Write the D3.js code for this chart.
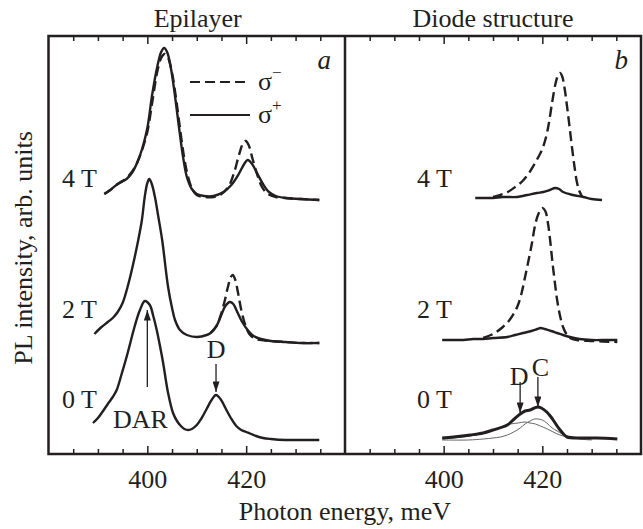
<!DOCTYPE html>
<html>
<head>
<meta charset="utf-8">
<script src="https://cdn.jsdelivr.net/npm/d3@7"></script>
<style>
  body { margin: 0; background: #fff; }
  svg text { font-family: "Liberation Serif", "Times New Roman", serif; fill: #231f20; }
</style>
</head>
<body>
<div id="chart"></div>
<script>
// photon energy (meV), PL intensity (arb. units, curves already shifted vertically)
const epi4Tplus = [[391.3,260],[392.5,264],[394.0,270],[395.8,275],[397.0,282],[398.0,292],[399.0,306],[400.0,326],[401.0,360],[402.0,387],[402.8,402],[403.4,406],[404.0,402],[404.8,385],[405.6,358],[406.4,327],[407.2,298],[408.0,277],[409.0,265],[410.0,260],[411.5,258],[413.4,258],[415.4,262],[417.0,269],[418.5,280],[419.6,290],[420.3,294],[421.2,290],[422.3,280],[423.4,270],[424.6,262],[426.0,258],[428.0,256],[431.0,255],[434.8,254]];
const epi4Tminus = [[391.3,260],[392.5,264],[394.0,270],[395.8,276],[397.0,283],[398.0,292],[399.0,305],[400.0,322],[401.0,352],[402.0,382],[402.8,396],[403.5,400],[404.2,396],[405.0,381],[405.8,356],[406.6,326],[407.4,298],[408.2,278],[409.0,266],[410.0,259],[411.5,257],[413.4,257],[415.0,260],[416.5,268],[417.6,282],[418.6,300],[419.4,311],[419.9,313],[420.5,309],[421.3,295],[422.2,280],[423.2,267],[424.4,260],[426.0,257],[428.0,256],[431.0,255],[434.8,254]];
const epi2Tplus = [[389.3,120],[390.5,126],[392.0,132],[393.0,136],[394.0,142],[395.0,151],[396.0,167],[397.0,187],[398.0,210],[398.9,234],[399.5,258],[400.0,271],[400.4,275],[400.9,270],[401.5,258],[402.2,238],[403.0,214],[404.2,167],[405.0,146],[405.6,134],[406.6,124],[408.0,119],[410.1,117],[412.0,119],[412.8,121],[414.0,128],[414.8,137],[415.8,148],[416.7,152],[417.4,150],[418.2,142],[419.2,132],[420.3,124],[421.5,118],[423.0,115],[425.0,113],[428.0,112],[431.0,111],[434.8,111]];
const epi2Tminus = [[412.8,121],[414.0,128],[414.8,138],[415.6,152],[416.3,167],[416.9,177],[417.3,179],[417.8,174],[418.4,160],[419.1,142],[419.9,128],[420.8,119],[422.0,115],[423.0,114],[425.0,113],[428.0,112],[431.0,111],[434.8,111]];
const epi0T = [[389.0,31],[390.0,36],[390.9,42],[392.0,50],[393.0,57],[393.8,64],[394.8,80],[395.8,97],[396.6,112],[397.4,127],[398.5,144],[399.5,153],[400.5,149],[401.2,138],[401.9,124],[402.6,107],[403.2,91],[404.2,61],[405.2,41],[406.0,33],[406.6,29],[407.5,25],[408.3,24],[409.0,25],[410.0,29],[411.0,36],[412.0,45],[413.0,54],[413.9,59],[414.8,55],[415.8,46],[416.9,36],[418.0,28],[419.0,24],[420.0,22],[421.0,20],[422.0,18],[423.4,16],[425.0,15],[428.0,14],[431.0,14],[434.8,14]];

const dio4Tplus = [[406.4,256],[408.0,256],[410.0,256],[412.0,257],[414.9,257],[416.9,259],[418.9,261],[420.2,262],[421.5,264],[422.6,266],[423.4,265],[424.2,262],[426.2,259],[428.3,257],[430.0,255],[432.1,254]];
const dio4Tminus = [[410.0,257],[411.5,259],[413.0,262],[414.5,267],[416.0,273],[417.3,281],[418.3,289],[419.2,297],[420.0,305],[420.7,316],[421.3,330],[422.0,352],[422.7,371],[423.2,379],[423.6,381],[424.0,378],[424.5,366],[425.0,348],[425.5,328],[426.0,307],[426.5,288],[427.0,272],[427.5,263],[428.1,257]];
const dio2Tplus = [[399.7,114],[402.0,114],[404.0,114],[406.0,115],[408.0,115],[410.0,116],[412.9,117],[414.5,119],[416.1,121],[417.8,123],[419.0,125],[419.6,126],[420.5,125],[421.8,123],[423.0,121],[424.2,119],[425.6,117],[427.5,115],[430.0,114],[433.0,114],[435.2,114]];
const dio2Tminus = [[408.0,116],[410.0,120],[412.0,127],[413.5,135],[414.9,147],[415.8,161],[416.5,177],[417.3,196],[417.9,211],[418.5,228],[419.2,240],[420.0,246],[420.6,243],[421.1,232],[421.6,213],[422.0,194],[422.5,173],[423.0,154],[423.6,138],[424.2,127],[425.0,119],[425.6,116],[427.0,114],[430.0,113],[435.2,112]];
const dio0T = [[399.7,16],[402.0,17],[405.4,19],[408.0,21],[410.0,24],[412.9,29],[414.3,35],[415.5,40],[416.5,43],[417.5,44],[418.4,46],[419.1,47],[419.8,46],[420.9,42],[421.6,38],[422.2,34],[423.0,28],[423.6,24],[424.3,20],[425.0,17],[427.7,16],[431.0,16],[435.2,15]];
const dio0T_D = [[399.7,15],[402.0,16],[405.4,18],[408.0,21],[410.0,24],[412.0,28],[413.5,30],[415.1,31],[416.5,32],[417.5,31],[418.6,30],[419.6,28],[421.0,25],[422.2,22],[423.6,19],[425.0,17],[427.7,15],[430.0,15]];
const dio0T_C = [[399.7,14],[405.0,14],[408.0,15],[410.0,16],[411.5,17],[412.9,19],[414.2,22],[415.5,26],[416.5,30],[417.5,33],[418.4,35],[419.1,35],[420.0,34],[420.9,31],[422.0,26],[423.0,23],[424.0,20],[425.0,18],[427.7,15],[430.0,14]];

const fieldLabels = ["4 T", "2 T", "0 T"];
const fieldLabelLevels = [267, 136, 46];
const tickValues = d3.range(385, 440, 5);
const labeledTicks = [400, 420];
// arrows: energy, start intensity, tip intensity, label, label energy, label level
const arrowsA = [
  { e: 400.0, from: 67, to: 144, label: "DAR", le: 398.6, ly: 26 },
  { e: 413.9, from: 90, to: 62, label: "D", le: 413.9, ly: 96 }
];
const arrowsB = [
  { e: 415.5, from: 72, to: 41, label: "D", le: 415.3, ly: 69 },
  { e: 419.1, from: 77, to: 47, label: "C", le: 419.6, ly: 78 }
];

const width = 643, height = 529;
const frame = { top: 36, bottom: 454, left: 48.5, mid: 345, right: 641 };
const ink = "#231f20";
const dash = "10,5";

const svg = d3.select("#chart").append("svg")
  .attr("width", width)
  .attr("height", height);

svg.append("defs").append("marker")
  .attr("id", "arrow")
  .attr("markerUnits", "userSpaceOnUse")
  .attr("viewBox", "0 0 12 8")
  .attr("refX", 12).attr("refY", 4)
  .attr("markerWidth", 12).attr("markerHeight", 7)
  .attr("orient", "auto")
  .append("path")
  .attr("d", "M0,0 L12,4 L0,8 Z")
  .attr("fill", ink);

const y = d3.scaleLinear().domain([0, 418]).range([frame.bottom, frame.top]);
const xA = d3.scaleLinear().domain([380, 440]).range([frame.left, frame.mid]);
const xB = d3.scaleLinear().domain([380, 440]).range([frame.mid, frame.right]);

function drawAxes(x) {
  const fmt = d => labeledTicks.includes(d) ? d : "";
  const bot = svg.append("g")
    .attr("transform", `translate(0,${frame.bottom})`)
    .call(d3.axisBottom(x).tickValues(tickValues).tickSize(-5).tickFormat(fmt));
  const tp = svg.append("g")
    .attr("transform", `translate(0,${frame.top})`)
    .call(d3.axisTop(x).tickValues(tickValues).tickSize(-5).tickFormat(""));
  [bot, tp].forEach(g => {
    g.select(".domain").remove();
    g.selectAll(".tick line")
      .attr("stroke", ink)
      .attr("stroke-width", 1.5);
  });
  bot.selectAll(".tick line").attr("y2", d => labeledTicks.includes(d) ? -8 : -5);
  tp.selectAll(".tick line").attr("y2", d => labeledTicks.includes(d) ? 8 : 5);
  bot.selectAll(".tick text")
    .attr("y", 34).attr("dy", 0)
    .attr("font-size", 26)
    .attr("font-family", "Liberation Serif")
    .attr("fill", ink);
}

function drawCurve(x, data, opts) {
  const line = d3.line()
    .x(d => x(d[0]))
    .y(d => y(d[1]))
    .curve(d3.curveCatmullRom.alpha(0.5));
  svg.append("path")
    .datum(data)
    .attr("d", line)
    .attr("fill", "none")
    .attr("stroke", opts.color || ink)
    .attr("stroke-width", opts.width || 2.4)
    .attr("stroke-dasharray", opts.dash ? dash : null)
    .attr("stroke-linejoin", "round");
}

function drawArrows(x, arrows) {
  arrows.forEach(a => {
    svg.append("line")
      .attr("x1", x(a.e)).attr("y1", y(a.from))
      .attr("x2", x(a.e)).attr("y2", y(a.to))
      .attr("stroke", ink)
      .attr("stroke-width", 1.3)
      .attr("marker-end", "url(#arrow)");
    svg.append("text")
      .attr("x", x(a.le)).attr("y", y(a.ly))
      .attr("text-anchor", "middle")
      .attr("font-size", 26)
      .text(a.label);
  });
}

function drawFieldLabels(xPos) {
  fieldLabels.forEach((t, i) => {
    svg.append("text")
      .attr("x", xPos)
      .attr("y", y(fieldLabelLevels[i]))
      .attr("font-size", 26)
      .text(t);
  });
}

drawAxes(xA);
drawAxes(xB);

// panel a: epilayer
drawCurve(xA, epi4Tminus, { dash: true });
drawCurve(xA, epi4Tplus, {});
drawCurve(xA, epi2Tminus, { dash: true });
drawCurve(xA, epi2Tplus, {});
drawCurve(xA, epi0T, {});
drawArrows(xA, arrowsA);
drawFieldLabels(62);

// panel b: diode structure
drawCurve(xB, dio4Tminus, { dash: true });
drawCurve(xB, dio4Tplus, {});
drawCurve(xB, dio2Tminus, { dash: true });
drawCurve(xB, dio2Tplus, {});
drawCurve(xB, dio0T_D, { color: "#666", width: 1 });
drawCurve(xB, dio0T_C, { color: "#666", width: 1 });
drawCurve(xB, dio0T, { width: 3 });
drawArrows(xB, arrowsB);
drawFieldLabels(417);

// frame and divider
svg.append("rect")
  .attr("x", frame.left).attr("y", frame.top)
  .attr("width", frame.right - frame.left).attr("height", frame.bottom - frame.top)
  .attr("fill", "none")
  .attr("stroke", ink)
  .attr("stroke-width", 2.5);
svg.append("line")
  .attr("x1", frame.mid).attr("x2", frame.mid)
  .attr("y1", frame.top).attr("y2", frame.bottom)
  .attr("stroke", ink)
  .attr("stroke-width", 2.5);

// legend
const legend = svg.append("g").attr("transform", "translate(190,0)");
[{ dash: true, yy: 82, sup: "\u2212" }, { dash: false, yy: 115, sup: "+" }].forEach(d => {
  legend.append("line")
    .attr("x1", 0).attr("x2", 60)
    .attr("y1", d.yy).attr("y2", d.yy)
    .attr("stroke", ink)
    .attr("stroke-width", 2.2)
    .attr("stroke-dasharray", d.dash ? dash : null);
  const t = legend.append("text")
    .attr("x", 68).attr("y", d.yy + 8)
    .attr("font-size", 26)
    .text("\u03c3");
  t.append("tspan")
    .attr("dy", -12)
    .attr("font-size", 17)
    .text(d.sup);
});

// panel letters and titles
svg.append("text")
  .attr("x", 331).attr("y", 69)
  .attr("text-anchor", "end")
  .attr("font-size", 27)
  .attr("font-style", "italic")
  .text("a");
svg.append("text")
  .attr("x", 628).attr("y", 69)
  .attr("text-anchor", "end")
  .attr("font-size", 27)
  .attr("font-style", "italic")
  .text("b");

svg.append("text")
  .attr("x", (frame.left + frame.mid) / 2 + 1).attr("y", 27)
  .attr("text-anchor", "middle")
  .attr("font-size", 26)
  .text("Epilayer");
svg.append("text")
  .attr("x", (frame.mid + frame.right) / 2).attr("y", 27)
  .attr("text-anchor", "middle")
  .attr("font-size", 26)
  .text("Diode structure");

svg.append("text")
  .attr("x", frame.mid).attr("y", 520)
  .attr("text-anchor", "middle")
  .attr("font-size", 26)
  .text("Photon energy, meV");

svg.append("text")
  .attr("transform", "translate(32,248) rotate(-90)")
  .attr("text-anchor", "middle")
  .attr("font-size", 26)
  .text("PL intensity, arb. units");
</script>
</body>
</html>
